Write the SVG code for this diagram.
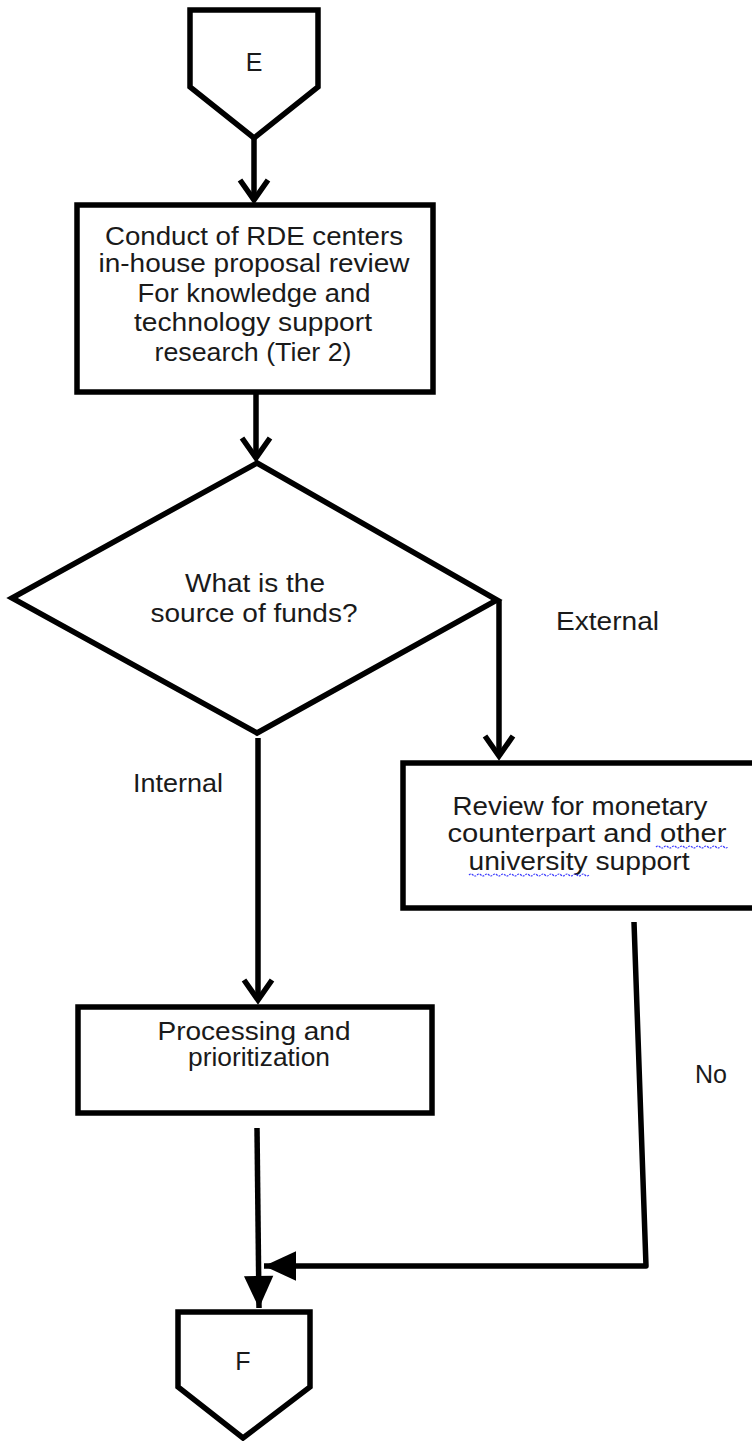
<svg xmlns="http://www.w3.org/2000/svg" width="752" height="1441" viewBox="0 0 752 1441">
  <style>
    .shape { fill: #ffffff; stroke: #000000; stroke-width: 5.5; stroke-linejoin: miter; }
    .wire { fill: none; stroke: #000000; stroke-width: 5.5; }
    .label { font-family: "Liberation Sans", Arial, sans-serif; font-size: 25px; fill: #1a1a1a; text-anchor: middle; }
    .tag { font-family: "Liberation Sans", Arial, sans-serif; font-size: 25px; fill: #1a1a1a; }
    .squiggle { fill: none; stroke: #3a3aff; stroke-width: 1.2; stroke-dasharray: 2 1; }
  </style>
  <defs>
    <!-- open chevron arrowhead -->
    <marker id="chevron" markerUnits="userSpaceOnUse" orient="auto" markerWidth="40" markerHeight="40" refX="0" refY="0" viewBox="-26 -20 30 40" overflow="visible">
      <path d="M-20,-14 L0,0 L-20,14" fill="none" stroke="#000" stroke-width="5.5" stroke-linejoin="miter"/>
    </marker>
    <!-- solid triangle arrowhead -->
    <marker id="solid" markerUnits="userSpaceOnUse" orient="auto" markerWidth="40" markerHeight="40" refX="0" refY="0" viewBox="-26 -14 30 28" overflow="visible">
      <path d="M-24,-11 L0,0 L-24,11 Z" fill="#000"/>
    </marker>
  </defs>
  <rect width="752" height="1441" fill="#ffffff"/>

  <g id="connectors">
    <line class="wire" x1="254" y1="138" x2="254" y2="200" marker-end="url(#chevron)"/>
    <line class="wire" x1="256" y1="392" x2="256" y2="458" marker-end="url(#chevron)"/>
    <line class="wire" x1="499" y1="600" x2="499" y2="756" marker-end="url(#chevron)"/>
    <line class="wire" x1="258" y1="738" x2="258" y2="1000" marker-end="url(#chevron)"/>
    <line class="wire" x1="257" y1="1128" x2="259" y2="1308" stroke-width="6.5" marker-end="url(#solid)"/>
    <polyline class="wire" points="634,922 646,1266 264,1266" stroke-width="6.5" stroke-linejoin="round" marker-end="url(#solid)"/>
    <text class="tag" x="556" y="630" textLength="103" lengthAdjust="spacingAndGlyphs">External</text>
    <text class="tag" x="133" y="792" textLength="90" lengthAdjust="spacingAndGlyphs">Internal</text>
    <text class="tag" x="695" y="1083" textLength="32" lengthAdjust="spacingAndGlyphs">No</text>
  </g>

  <g id="connector-E">
    <path class="shape" d="M190,10 L318,10 L318,87 L254,138 L190,87 Z"/>
    <text class="label" x="254" y="71">E</text>
  </g>

  <g id="review-tier2">
    <rect class="shape" x="77" y="205" width="356" height="187"/>
    <text class="label" x="254" y="245" textLength="298" lengthAdjust="spacingAndGlyphs">Conduct of RDE centers</text>
    <text class="label" x="254" y="272" textLength="311" lengthAdjust="spacingAndGlyphs">in-house proposal review</text>
    <text class="label" x="254" y="302" textLength="233" lengthAdjust="spacingAndGlyphs">For knowledge and</text>
    <text class="label" x="253" y="331" textLength="238" lengthAdjust="spacingAndGlyphs">technology support</text>
    <text class="label" x="253" y="361" textLength="197" lengthAdjust="spacingAndGlyphs">research (Tier 2)</text>
  </g>

  <g id="source-of-funds">
    <path class="shape" d="M257,463 L497,600 L257,733 L12,598 Z"/>
    <text class="label" x="255" y="592" textLength="140" lengthAdjust="spacingAndGlyphs">What is the</text>
    <text class="label" x="254" y="622" textLength="207" lengthAdjust="spacingAndGlyphs">source of funds?</text>
  </g>

  <g id="monetary-review">
    <rect class="shape" x="403" y="763" width="362" height="145"/>
    <text class="label" x="580" y="815" textLength="255" lengthAdjust="spacingAndGlyphs">Review for monetary</text>
    <text class="label" x="587" y="842" textLength="279" lengthAdjust="spacingAndGlyphs">counterpart and other</text>
    <text class="label" x="579" y="870" textLength="221" lengthAdjust="spacingAndGlyphs">university support</text>
    <path class="squiggle" d="M656,847 q2,-2 4,0 t4,0 t4,0 t4,0 t4,0 t4,0 t4,0 t4,0 t4,0 t4,0 t4,0 t4,0 t4,0 t4,0 t4,0 t4,0 t4,0 t4,0"/>
    <path class="squiggle" d="M469,875 q2,-2 4,0 t4,0 t4,0 t4,0 t4,0 t4,0 t4,0 t4,0 t4,0 t4,0 t4,0 t4,0 t4,0 t4,0 t4,0 t4,0 t4,0 t4,0 t4,0 t4,0 t4,0 t4,0 t4,0 t4,0 t4,0 t4,0 t4,0 t4,0 t4,0 t4,0"/>
  </g>

  <g id="processing">
    <rect class="shape" x="78" y="1007" width="354" height="106"/>
    <text class="label" x="254" y="1040" textLength="193" lengthAdjust="spacingAndGlyphs">Processing and</text>
    <text class="label" x="259" y="1066" textLength="142" lengthAdjust="spacingAndGlyphs">prioritization</text>
  </g>

  <g id="connector-F">
    <path class="shape" d="M178,1312 L310,1312 L310,1387 L243,1438 L178,1387 Z"/>
    <text class="label" x="243" y="1370">F</text>
  </g>
</svg>
